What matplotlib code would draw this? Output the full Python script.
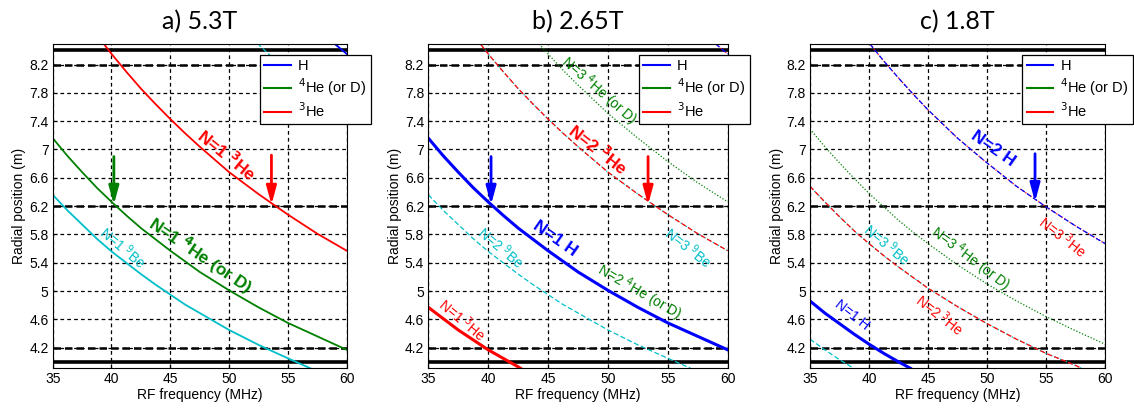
import numpy as np
import matplotlib
matplotlib.use("Agg")
import matplotlib.pyplot as plt

plt.rcParams['font.family'] = ['Liberation Sans', 'DejaVu Sans']

# Resonance layers R(f): frequency (MHz) and radius (m)
f_a = [59.0, 60.0]
r_a = [8.49, 8.35]
f_b = [52.4, 55.0, 57.5, 60.0]
r_b = [8.50, 8.09, 7.74, 7.42]
f_c = [39.4, 40.0, 41.25, 42.5, 43.75, 45.0, 46.25, 47.5, 50.0, 52.5, 55.0, 57.5, 60.0]
r_c = [8.48, 8.35, 8.10, 7.86, 7.64, 7.43, 7.23, 7.04, 6.68, 6.37, 6.08, 5.81, 5.57]
f_d = [35.0, 36.25, 37.5, 38.75, 40.0, 41.25, 42.5, 43.75, 45.0, 46.25, 47.5,
       50.0, 52.5, 55.0, 57.5, 60.0]
r_d = [7.16, 6.91, 6.68, 6.46, 6.26, 6.07, 5.89, 5.73, 5.57, 5.42, 5.27,
       5.01, 4.77, 4.55, 4.36, 4.17]
f_e = [35.0, 36.25, 37.5, 38.75, 40.0, 41.25, 42.5, 43.75, 45.0, 46.25, 47.5,
       50.0, 52.5, 55.0, 56.9]
r_e = [6.36, 6.14, 5.94, 5.74, 5.56, 5.40, 5.24, 5.09, 4.95, 4.81, 4.69,
       4.45, 4.24, 4.05, 3.91]
f_f = [35.0, 36.25, 37.5, 38.75, 40.0, 41.25, 42.5, 42.7]
r_f = [4.77, 4.61, 4.45, 4.31, 4.17, 4.05, 3.93, 3.91]
f_g = [44.25, 45.0, 46.25, 47.5, 48.75, 50.0, 52.5, 55.0, 57.5, 60.0]
r_g = [8.49, 8.35, 8.12, 7.91, 7.71, 7.51, 7.16, 6.83, 6.53, 6.26]
f_h = [40.08, 41.25, 42.5, 43.75, 45.0, 46.25, 47.5, 50.0, 52.5, 55.0, 57.5, 60.0]
r_h = [8.49, 8.25, 8.01, 7.78, 7.56, 7.36, 7.16, 6.81, 6.48, 6.19, 5.92, 5.67]
f_i = [35.0, 36.25, 37.5, 38.75, 40.0, 41.25, 42.5, 43.75, 45.0, 46.25, 47.5,
       50.0, 52.5, 55.0, 57.5, 60.0]
r_i = [7.29, 7.04, 6.81, 6.59, 6.38, 6.19, 6.00, 5.83, 5.67, 5.52, 5.37,
       5.10, 4.86, 4.64, 4.44, 4.25]
f_j = [35.0, 36.25, 37.5, 38.75, 40.0, 41.25, 42.5, 43.75, 45.0, 46.25, 47.5,
       50.0, 52.5, 55.0, 57.5, 58.0]
r_j = [6.48, 6.26, 6.05, 5.85, 5.67, 5.50, 5.34, 5.19, 5.04, 4.91, 4.78,
       4.54, 4.32, 4.12, 3.95, 3.91]
f_k = [35.0, 36.25, 37.5, 38.75, 40.0, 41.25, 42.5, 43.5]
r_k = [4.86, 4.69, 4.54, 4.39, 4.25, 4.12, 4.00, 3.91]
f_l = [35.0, 36.25, 37.5, 38.7]
r_l = [4.32, 4.17, 4.03, 3.91]

titles = ['a) 5.3T', 'b) 2.65T', 'c) 1.8T']
yticks = [4.2, 4.6, 5.0, 5.4, 5.8, 6.2, 6.6, 7.0, 7.4, 7.8, 8.2]
xticks = [35, 40, 45, 50, 55, 60]
wall_r = [4.0, 8.4]
dash_r = [4.2, 6.2, 8.2]

C_H = '#0000ff'
C_D = '#008000'
C_HE3 = '#ff0000'
C_BE = '#00bfc8'

# harmonic number -> line style
STY = {1: '-', 2: (0, (4, 2)), 3: (0, (1, 1.5))}

# (f, r, colour, harmonic) for each panel
curves = [
    [(f_e, r_e, C_BE, 1), (f_b, r_b, C_BE, 2), (f_d, r_d, C_D, 1),
     (f_a, r_a, C_D, 2), (f_c, r_c, C_HE3, 1), (f_a, r_a, C_H, 1)],
    [(f_e, r_e, C_BE, 2), (f_c, r_c, C_BE, 3), (f_d, r_d, C_D, 2),
     (f_g, r_g, C_D, 3), (f_f, r_f, C_HE3, 1), (f_c, r_c, C_HE3, 2),
     (f_a, r_a, C_HE3, 3), (f_d, r_d, C_H, 1), (f_a, r_a, C_H, 2)],
    [(f_l, r_l, C_BE, 2), (f_j, r_j, C_BE, 3), (f_k, r_k, C_D, 2),
     (f_i, r_i, C_D, 3), (f_j, r_j, C_HE3, 2), (f_h, r_h, C_HE3, 3),
     (f_k, r_k, C_H, 1), (f_h, r_h, C_H, 2)],
]
thick = [1.3, 2.2, 2.2]

# text labels: (f, r, text, colour, bold, angle)
labels = [
    [(49.8, 6.92, r'N=1 $^{\mathbf{3}}$He', C_HE3, True, -39),
     (47.6, 5.51, r'N=1 $^{\mathbf{4}}$He (or D)', C_D, True, -34),
     (41.0, 5.62, r'N=1 $^{9}$Be', C_BE, False, -40)],
    [(49.2, 7.00, r'N=2 $^{\mathbf{3}}$He', C_HE3, True, -38),
     (49.25, 7.83, r'N=3 $^{4}$He (or D)', C_D, False, -41),
     (45.6, 5.74, 'N=1 H', C_H, True, -35),
     (52.6, 4.98, r'N=2 $^{4}$He (or D)', C_D, False, -30),
     (41.1, 5.61, r'N=2 $^{9}$Be', C_BE, False, -40),
     (56.75, 5.62, r'N=3 $^{9}$Be', C_BE, False, -38),
     (37.8, 4.60, r'N=1 $^{3}$He', C_HE3, False, -40)],
    [(50.5, 7.01, 'N=2 H', C_H, True, -35),
     (56.4, 5.76, r'N=3 $^{3}$He', C_HE3, False, -38),
     (41.5, 5.66, r'N=3 $^{9}$Be', C_BE, False, -40),
     (48.6, 5.46, r'N=3 $^{4}$He (or D)', C_D, False, -37),
     (46.0, 4.66, r'N=2 $^{3}$He', C_HE3, False, -38),
     (38.6, 4.66, 'N=1 H', C_H, False, -38)],
]

# arrows: (f, r_tail, r_tip, colour)
arrows = [
    [(40.2, 6.90, 6.22, C_D), (53.6, 6.92, 6.22, C_HE3)],
    [(40.24, 6.90, 6.22, C_H), (53.35, 6.90, 6.22, C_HE3)],
    [(54.07, 6.94, 6.26, C_H)],
]

W, H = 1134, 412
boxes = [(52.7, 294.0), (428.3, 299.4), (810.0, 295.0)]
leg_x = [0.705, 0.704, 0.72]

fig = plt.figure(figsize=(W / 100, H / 100), dpi=100)

for k in range(3):
    x0, w = boxes[k]
    ax = fig.add_axes([x0 / W, 44 / H, w / W, 324 / H])
    ax.set_xlim(35, 60)
    ax.set_ylim(3.913, 8.49)

    ax.set_xticks(xticks)
    ax.set_yticks(yticks)
    ax.set_yticklabels(['%g' % v for v in yticks])
    ax.tick_params(direction='in', labelsize=10, length=3, pad=3)
    ax.grid(True, color='black', linestyle=(0, (3, 2.5)), linewidth=0.9)
    ax.set_axisbelow(True)

    for r in wall_r:
        ax.axhline(r, color='black', lw=2.6, zorder=1.5)
    for r in dash_r:
        ax.axhline(r, color='black', lw=1.8, linestyle=(0, (3, 1.6)), zorder=1.5)

    for f, r, col, n in curves[k]:
        lw = thick[k] if n == 1 else 0.9
        ax.plot(f, r, color=col, linestyle=STY[n], lw=lw, zorder=2,
                solid_joinstyle='round')

    for f, r, txt, col, bold, ang in labels[k]:
        ax.text(f, r, txt, color=col, fontsize=12.5 if bold else 10,
                fontweight='bold' if bold else 'normal', rotation=ang,
                rotation_mode='anchor', ha='center', va='center', zorder=3)

    for f, r0, r1, col in arrows[k]:
        ax.annotate('', xy=(f, r1), xytext=(f, r0),
                    arrowprops=dict(arrowstyle='-|>,head_width=0.3,head_length=1.1',
                                    color=col, lw=2.0, shrinkA=0, shrinkB=0),
                    zorder=4)

    ax.set_xlabel('RF frequency (MHz)', fontsize=10, labelpad=1)
    ax.set_ylabel('Radial position (m)', fontsize=10, labelpad=2)
    fig.text((x0 + w / 2) / W, 1 - 22 / H, titles[k], fontsize=18,
             family='Lato', ha='center', va='center')

    h1, = ax.plot([], [], color=C_H, lw=1.5)
    h2, = ax.plot([], [], color=C_D, lw=1.5)
    h3, = ax.plot([], [], color=C_HE3, lw=1.5)
    leg = ax.legend([h1, h2, h3], ['H', r'$^4$He (or D)', r'$^3$He'],
                    loc='upper left', bbox_to_anchor=(leg_x[k], 0.967),
                    fontsize=10.5, fancybox=False, framealpha=1,
                    edgecolor='black', borderpad=0.3, labelspacing=0.22,
                    handlelength=1.8, handletextpad=0.5, borderaxespad=0)
    leg.get_frame().set_linewidth(0.9)
    leg.set_zorder(10)
    leg.set_clip_on(False)
    for sp in ax.spines.values():
        sp.set_linewidth(0.8)

fig.savefig('out.png', dpi=100)
